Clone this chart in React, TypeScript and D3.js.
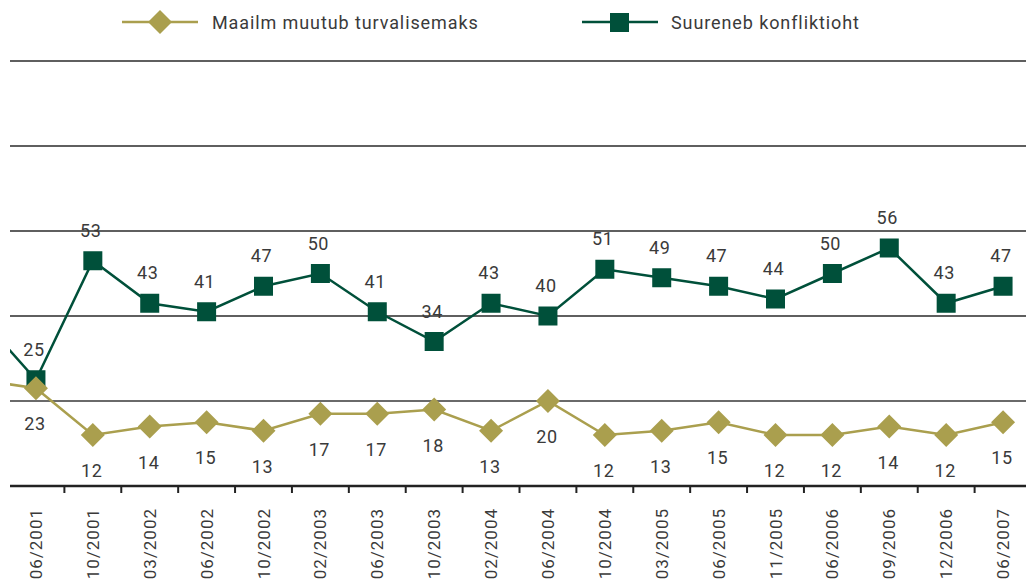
import { useMemo } from "react";
import * as d3 from "d3";

const W = 1026;
const H = 581;

const periods = [
  "06/2001", "10/2001", "03/2002", "06/2002", "10/2002", "02/2003",
  "06/2003", "10/2003", "02/2004", "06/2004", "10/2004", "03/2005",
  "06/2005", "11/2005", "06/2006", "09/2006", "12/2006", "06/2007",
];
const saferValues = [23, 12, 14, 15, 13, 17, 17, 18, 13, 20, 12, 13, 15, 12, 12, 14, 12, 15];
const conflictValues = [25, 53, 43, 41, 47, 50, 41, 34, 43, 40, 51, 49, 47, 44, 50, 56, 43, 47];
// previous survey, cut off at the left edge of the picture
const saferPrev = 25;
const conflictPrev = 40;
const gridValues = [20, 40, 60, 80, 100];

const seriesNames = ["Maailm muutub turvalisemaks", "Suureneb konfliktioht"];
const OLIVE = "#aa9f4e";
const GREEN = "#00503a";
const TEXT = "#3a3a3a";
const FONT = "Roboto, 'DejaVu Sans', sans-serif";

function diamond(cx: number, cy: number, r: number) {
  return `M${cx},${cy - r}L${cx + r},${cy}L${cx},${cy + r}L${cx - r},${cy}Z`;
}

function App() {
  const x = useMemo(
    () => d3.scaleBand<string>().domain(periods).range([7.5, 1031.5]).paddingInner(0).paddingOuter(0),
    []
  );
  const y = useMemo(() => d3.scaleLinear().domain([0, 100]).range([486, 61]), []);

  const cx = (i: number) => (x(periods[0]) as number) + x.bandwidth() / 2 + i * x.step();

  const line = d3
    .line<[number, number]>()
    .x((d) => cx(d[0]))
    .y((d) => y(d[1]));

  const saferPts: [number, number][] = [[-1, saferPrev], ...saferValues.map((v, i) => [i, v] as [number, number])];
  const conflictPts: [number, number][] = [[-1, conflictPrev], ...conflictValues.map((v, i) => [i, v] as [number, number])];

  return (
    <svg
      width={W}
      height={H}
      style={{ position: "absolute", left: 0, top: 0, background: "#fff" }}
      fontFamily={FONT}
      fontWeight={400}
    >
      <defs>
        <clipPath id="plot">
          <rect x={10} y={0} width={W} height={H} />
        </clipPath>
      </defs>

      {/* legend */}
      <g>
        <line x1={122} x2={198} y1={22} y2={22} stroke={OLIVE} strokeWidth={2.5} />
        <path d={diamond(160, 22, 12)} fill={OLIVE} />
        <text x={212} y={29} fontSize={18} letterSpacing={0.9} fill={TEXT}>{seriesNames[0]}</text>
        <line x1={582} x2={658} y1={22} y2={22} stroke={GREEN} strokeWidth={2.5} />
        <rect x={610} y={13} width={19} height={19} fill={GREEN} />
        <text x={671} y={29} fontSize={18} letterSpacing={0.9} fill={TEXT}>{seriesNames[1]}</text>
      </g>

      {/* grid */}
      {gridValues.map((g) => (
        <line
          key={g}
          x1={10}
          x2={W}
          y1={y(g)}
          y2={y(g)}
          stroke={g === 20 ? "#6a6a6a" : "#2a2a2a"}
          strokeWidth={g === 20 ? 2 : 1.3}
        />
      ))}

      {/* x axis */}
      <line x1={10} x2={W} y1={y(0)} y2={y(0)} stroke="#222" strokeWidth={2.5} />
      {periods.slice(1).map((p) => (
        <line key={p} x1={x(p)} x2={x(p)} y1={y(0)} y2={y(0) + 7} stroke="#222" strokeWidth={2} />
      ))}
      {periods.map((p, i) => (
        <text
          key={p}
          transform={`translate(${cx(i) + 6},${508}) rotate(-90)`}
          textAnchor="end"
          fontSize={17}
          letterSpacing={1}
          fill={TEXT}
        >
          {p}
        </text>
      ))}

      {/* series */}
      <g clipPath="url(#plot)">
        <path d={line(conflictPts) ?? ""} fill="none" stroke={GREEN} strokeWidth={2.5} />
        <path d={line(saferPts) ?? ""} fill="none" stroke={OLIVE} strokeWidth={2.5} />
      </g>
      {conflictValues.map((v, i) => (
        <rect key={i} x={cx(i) - 9.5} y={y(v) - 9.5} width={19} height={19} fill={GREEN} />
      ))}
      {saferValues.map((v, i) => (
        <path key={i} d={diamond(cx(i), y(v), 12)} fill={OLIVE} />
      ))}

      {/* value labels */}
      {conflictValues.map((v, i) => (
        <text key={i} x={cx(i) - 2} y={y(v) - 24} textAnchor="middle" fontSize={18} letterSpacing={0.6} fill={TEXT}>
          {v}
        </text>
      ))}
      {saferValues.map((v, i) => (
        <text key={i} x={cx(i) - 1} y={y(v) + 42} textAnchor="middle" fontSize={18} letterSpacing={0.6} fill={TEXT}>
          {v}
        </text>
      ))}
    </svg>
  );
}

export default App;
